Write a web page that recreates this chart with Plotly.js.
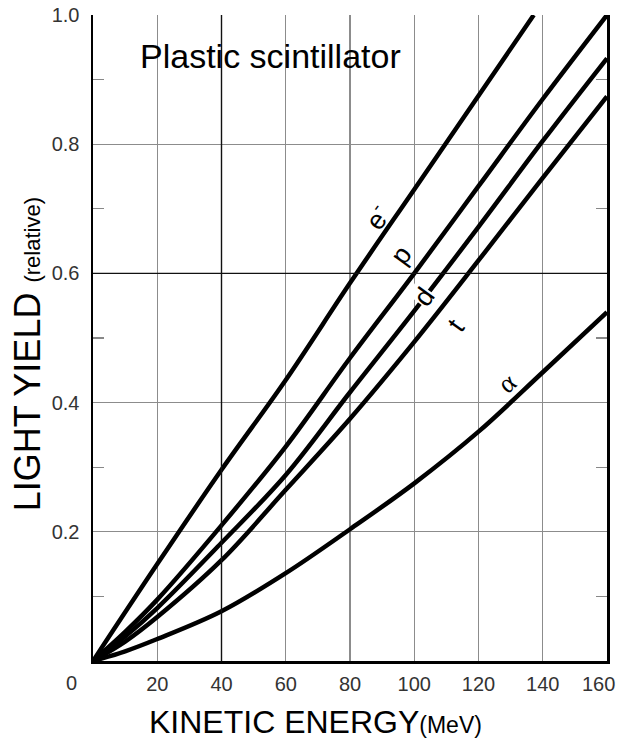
<!DOCTYPE html>
<html>
<head>
<meta charset="utf-8">
<script src="https://cdn.plot.ly/plotly-3.0.1.min.js"></script>
<style>
  html, body { margin: 0; padding: 0; background: #fff; }
  #chart { width: 618px; height: 740px; }
</style>
</head>
<body>
<div id="chart"></div>
<script>
// Kinetic energy (MeV) sample points
const energy = [0, 10, 20, 40, 60, 80, 100, 120, 140, 160];
// Electron curve ends where it reaches the top of the frame
const energyElectron = [0, 20, 40, 60, 80, 100, 120, 137.2];
const yieldElectron = [0, 0.15, 0.296, 0.435, 0.585, 0.73, 0.875, 1.0];
const yieldProton   = [0, 0.045, 0.095, 0.21, 0.332, 0.469, 0.6, 0.735, 0.87, 1.0];
const yieldDeuteron = [0, 0.038, 0.082, 0.183, 0.288, 0.416, 0.542, 0.672, 0.805, 0.933];
const yieldTriton   = [0, 0.03, 0.068, 0.156, 0.265, 0.375, 0.494, 0.62, 0.748, 0.874];
const yieldAlpha    = [0, 0.015, 0.034, 0.077, 0.136, 0.204, 0.275, 0.355, 0.447, 0.54];

const xTickVals = [20, 40, 60, 80, 100, 120, 140];
const xTickText = ['20', '40', '60', '80', '100', '120', '140'];
const yTickVals = [0.2, 0.4, 0.6, 0.8, 1.0];
const yTickText = ['0.2', '0.4', '0.6', '0.8', '1.0'];

const FONT = 'Liberation Sans, Arial, sans-serif';
const lineStyle = { color: '#000', width: 4.5, shape: 'spline', smoothing: 1 };

const traces = [
  { x: energyElectron, y: yieldElectron, name: 'e-' },
  { x: energy, y: yieldProton, name: 'p' },
  { x: energy, y: yieldDeuteron, name: 'd' },
  { x: energy, y: yieldTriton, name: 't' },
  { x: energy, y: yieldAlpha, name: 'alpha' }
].map(t => Object.assign(t, { type: 'scatter', mode: 'lines', line: lineStyle, hoverinfo: 'skip' }));

const curveLabel = (text, x, y, angle, fam, bg) => ({
  text: text, x: x, y: y, xref: 'x', yref: 'y', showarrow: false, textangle: angle,
  font: { family: fam || FONT, size: 27, color: '#000' },
  bgcolor: bg || 'rgba(0,0,0,0)', borderpad: 0
});

const tickFont = { family: FONT, size: 20, color: '#333' };

const layout = {
  width: 618, height: 740,
  margin: { l: 93, r: 11, t: 15, b: 79 },
  paper_bgcolor: '#fff', plot_bgcolor: '#fff',
  showlegend: false,
  font: { family: FONT, color: '#000' },
  xaxis: {
    range: [0, 160], tickvals: xTickVals, ticktext: xTickText,
    showgrid: true, gridcolor: '#8c8c8c', gridwidth: 1.3,
    zeroline: false, showline: true, linecolor: '#000', linewidth: 2.5, mirror: false,
    ticks: '', ticklabelstandoff: 3,
    tickfont: tickFont,
    automargin: false
  },
  yaxis: {
    range: [0, 1], tickvals: yTickVals, ticktext: yTickText,
    showgrid: true, gridcolor: '#8c8c8c', gridwidth: 1.3,
    zeroline: false, showline: true, linecolor: '#000', linewidth: 2.5, mirror: 'ticks',
    ticks: '', ticklabelstandoff: 7,
    tickfont: tickFont,
    minor: { tick0: 0.1, dtick: 0.2, ticks: 'inside', ticklen: 11, tickcolor: '#888', tickwidth: 1.3, showgrid: false },
    automargin: false
  },
  shapes: [
    { type: 'line', xref: 'x', yref: 'paper', x0: 40, x1: 40, y0: 0, y1: 1, line: { color: '#111', width: 1.4 }, layer: 'above' },
    { type: 'line', xref: 'paper', yref: 'y', x0: 0, x1: 1, y0: 0.6, y1: 0.6, line: { color: '#111', width: 1.4 }, layer: 'above' }
  ],
  annotations: [
    { text: 'Plastic scintillator', xref: 'paper', yref: 'paper', x: 0.346, y: 0.937, xanchor: 'center', yanchor: 'middle', showarrow: false, font: { family: FONT, size: 34, color: '#000' } },
    { text: 'KINETIC ENERGY<span style="font-size:23px">(MeV)</span>', xref: 'paper', yref: 'paper', x: 0.433, y: -0.094, xanchor: 'center', yanchor: 'middle', showarrow: false, font: { family: FONT, size: 32, color: '#000' } },
    { text: 'LIGHT YIELD <span style="font-size:22px">(relative)</span>', xref: 'paper', yref: 'paper', x: -0.128, y: 0.475, xanchor: 'center', yanchor: 'middle', textangle: -90, showarrow: false, font: { family: FONT, size: 36, color: '#000' } },
    { text: '0', xref: 'x', yref: 'paper', x: 0, y: 0, xshift: -22, yshift: -22, xanchor: 'center', yanchor: 'middle', showarrow: false, font: tickFont },
    { text: '160', xref: 'x', yref: 'paper', x: 160, y: 0, xshift: -9, yshift: -23, xanchor: 'center', yanchor: 'middle', showarrow: false, font: tickFont },
    curveLabel('e<sup>-</sup>', 88.2, 0.687, -54),
    curveLabel('p', 96, 0.628, -54),
    curveLabel('d', 103.1, 0.563, -54, FONT, '#fff'),
    curveLabel('t', 113.1, 0.52, -54),
    curveLabel('α', 128.9, 0.43, -40, 'Liberation Serif, serif')
  ]
};

Plotly.newPlot('chart', traces, layout, { staticPlot: true, displayModeBar: false });
</script>
</body>
</html>
